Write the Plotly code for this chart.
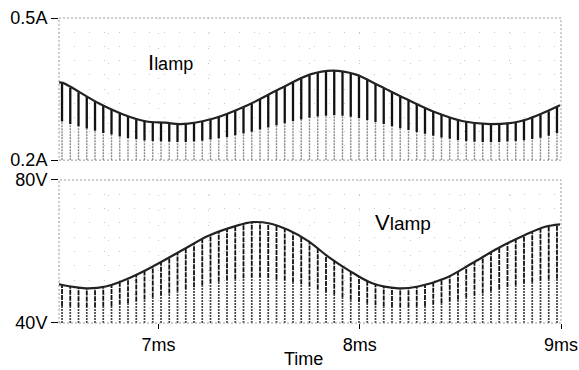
import plotly.graph_objects as go

# ---- data ----
pulse_t = [6.520, 6.561, 6.602, 6.643, 6.684, 6.725, 6.766, 6.807, 6.848, 6.889,
           6.930, 6.971, 7.012, 7.053, 7.094, 7.135, 7.176, 7.217, 7.258, 7.299,
           7.340, 7.381, 7.422, 7.463, 7.504, 7.545, 7.586, 7.627, 7.668, 7.709,
           7.750, 7.791, 7.832, 7.873, 7.914, 7.955, 7.996, 8.037, 8.078, 8.119,
           8.160, 8.201, 8.242, 8.283, 8.324, 8.365, 8.406, 8.447, 8.488, 8.529,
           8.570, 8.611, 8.652, 8.693, 8.734, 8.775, 8.816, 8.857, 8.898, 8.939,
           8.980]
i_peak = [0.363, 0.353, 0.343, 0.333, 0.324, 0.315, 0.308, 0.300, 0.293, 0.288,
          0.283, 0.281, 0.279, 0.278, 0.277, 0.277, 0.279, 0.282, 0.287, 0.292,
          0.298, 0.305, 0.312, 0.320, 0.329, 0.338, 0.347, 0.356, 0.364, 0.372,
          0.379, 0.384, 0.387, 0.389, 0.387, 0.383, 0.377, 0.369, 0.361, 0.352,
          0.343, 0.335, 0.327, 0.319, 0.311, 0.303, 0.296, 0.290, 0.285, 0.281,
          0.278, 0.277, 0.276, 0.277, 0.279, 0.281, 0.284, 0.289, 0.295, 0.303,
          0.313]
v_peak = [50.5, 50.1, 49.8, 49.7, 49.8, 50.1, 50.6, 51.3, 52.3, 53.4,
          54.6, 55.8, 57.0, 58.3, 59.6, 60.9, 62.2, 63.4, 64.6, 65.6,
          66.5, 67.2, 67.8, 68.1, 68.2, 67.9, 67.3, 66.4, 65.4, 64.1,
          62.7, 61.0, 59.2, 57.5, 55.9, 54.4, 53.1, 52.0, 51.0, 50.3,
          49.9, 49.7, 49.8, 50.1, 50.6, 51.3, 52.2, 53.2, 54.4, 55.7,
          57.0, 58.4, 59.8, 61.1, 62.3, 63.4, 64.4, 65.4, 66.3, 67.0,
          67.5]

i_env_t = [6.505, 6.524, 6.702, 6.821, 6.935, 7.035, 7.109, 7.273, 7.442, 7.605,
           7.754, 7.864, 7.978, 8.092, 8.226, 8.375, 8.514, 8.648, 8.797, 8.995]
i_env = [0.364, 0.363, 0.320, 0.297, 0.282, 0.279, 0.276, 0.288, 0.316, 0.351,
         0.381, 0.389, 0.381, 0.358, 0.330, 0.301, 0.282, 0.276, 0.282, 0.316]

v_env_t = [6.504, 6.638, 6.737, 6.871, 6.985, 7.119, 7.248, 7.382, 7.467, 7.546,
           7.645, 7.744, 7.844, 7.943, 8.062, 8.191, 8.290, 8.424, 8.558, 8.687,
           8.821, 8.921, 8.995]
v_env = [50.8, 49.7, 50.2, 53.0, 56.2, 60.4, 64.4, 67.1, 68.2, 67.9,
         66.0, 62.9, 58.5, 54.8, 51.1, 49.7, 50.2, 52.5, 56.7, 60.9,
         64.6, 66.9, 67.6]

x_range = [6.505, 9.0]
i_range = [0.2, 0.5]
v_range = [40, 80]
x_ticks = [7, 8, 9]
x_ticktext = ["7ms", "8ms", "9ms"]
i_ticks = [0.2, 0.5]
i_ticktext = ["0.2A", "0.5A"]
v_ticks = [40, 80]
v_ticktext = ["40V", "80V"]
x_title = "Time"

FONT = "Liberation Sans, Arial, sans-serif"


def segs(ts, lo, hi):
    xs, ys = [], []
    for t, a, b in zip(ts, lo, hi):
        xs += [t, t, None]
        ys += [a, b, None]
    return xs, ys


fig = go.Figure()

# top panel pulses: lower gray part and upper dark part
i_lo = [i_range[0]] * len(pulse_t)
i_mid = [i_range[0] + 0.5 * (p - i_range[0]) for p in i_peak]
xs, ys = segs(pulse_t, i_lo, i_mid)
fig.add_trace(go.Scatter(x=xs, y=ys, mode="lines", xaxis="x2", yaxis="y2",
                         line=dict(color="#888", width=1.4, dash="2px,1px"),
                         hoverinfo="skip", showlegend=False))
xs, ys = segs(pulse_t, i_mid, i_peak)
fig.add_trace(go.Scatter(x=xs, y=ys, mode="lines", xaxis="x2", yaxis="y2",
                         line=dict(color="#111", width=2.3),
                         hoverinfo="skip", showlegend=False))
fig.add_trace(go.Scatter(x=i_env_t, y=i_env, mode="lines", xaxis="x2", yaxis="y2",
                         line=dict(color="#222", width=2.2, shape="spline"),
                         hoverinfo="skip", showlegend=False))

# bottom panel pulses
v_lo = [v_range[0]] * len(pulse_t)
v_mid = [v_range[0] + 0.45 * (p - v_range[0]) for p in v_peak]
xs, ys = segs(pulse_t, v_lo, v_mid)
fig.add_trace(go.Scatter(x=xs, y=ys, mode="lines", xaxis="x", yaxis="y",
                         line=dict(color="#444", width=1.7, dash="2px,1px"),
                         hoverinfo="skip", showlegend=False))
xs, ys = segs(pulse_t, v_mid, v_peak)
fig.add_trace(go.Scatter(x=xs, y=ys, mode="lines", xaxis="x", yaxis="y",
                         line=dict(color="#111", width=1.8, dash="5px,1px"),
                         hoverinfo="skip", showlegend=False))
fig.add_trace(go.Scatter(x=v_env_t, y=v_env, mode="lines", xaxis="x", yaxis="y",
                         line=dict(color="#222", width=2.2, shape="spline"),
                         hoverinfo="skip", showlegend=False))

grid = dict(showgrid=True, gridcolor="#c8c8c8", griddash="1px,14px", gridwidth=1)

fig.update_layout(
    width=579, height=370,
    margin=dict(l=59, r=18, t=18, b=47, autoexpand=False),
    paper_bgcolor="white", plot_bgcolor="white",
    font=dict(family=FONT, size=18, color="black"),
    xaxis=dict(domain=[0, 1], range=x_range, tickvals=x_ticks, ticktext=x_ticktext,
               ticks="outside", ticklen=5, tickcolor="black", showline=False,
               zeroline=False, anchor="y", automargin=False,
               minor=dict(dtick=0.25, tick0=7, **grid), **grid),
    xaxis2=dict(domain=[0, 1], range=x_range, matches="x", showticklabels=False,
                ticks="", showline=False, zeroline=False, anchor="y2", automargin=False,
                tickvals=x_ticks, minor=dict(dtick=0.25, tick0=7, **grid), **grid),
    yaxis=dict(domain=[0, 0.469], range=v_range, tickvals=v_ticks, ticktext=v_ticktext,
               ticks="outside", ticklen=7, tickcolor="black", showline=False,
               zeroline=False, anchor="x", automargin=False,
               minor=dict(dtick=4, tick0=40, **grid), **grid),
    yaxis2=dict(domain=[0.534, 1], range=i_range, tickvals=i_ticks, ticktext=i_ticktext,
                ticks="outside", ticklen=7, tickcolor="black", showline=False,
                zeroline=False, anchor="x2", automargin=False,
                minor=dict(dtick=0.03, tick0=0.2, **grid), **grid),
)

# dotted frames around each panel
for xr, yr in (("x domain", "y domain"), ("x2 domain", "y2 domain")):
    fig.add_shape(type="rect", xref=xr, yref=yr, x0=0, x1=1, y0=0, y1=1,
                  line=dict(color="#9a9a9a", width=1, dash="2px,2px"), layer="above")

fig.add_annotation(text="I<span style='font-size:18px'>lamp</span>",
                   x=6.935, y=0.407, xref="x2", yref="y2", xanchor="left",
                   yanchor="middle", showarrow=False, font=dict(size=22, family=FONT))
fig.add_annotation(text="V<span style='font-size:19px'>lamp</span>",
                   x=8.067, y=68.2, xref="x", yref="y", xanchor="left",
                   yanchor="middle", showarrow=False, font=dict(size=22, family=FONT))
fig.add_annotation(text=x_title, x=0.488, y=-0.119, xref="paper", yref="paper",
                   xanchor="center", yanchor="middle", showarrow=False, borderpad=0,
                   font=dict(size=18, family=FONT))

fig.write_html("out.html", config={"displayModeBar": False},
               post_script="document.body.style.margin='0';"
                           "document.body.style.overflow='hidden';")
